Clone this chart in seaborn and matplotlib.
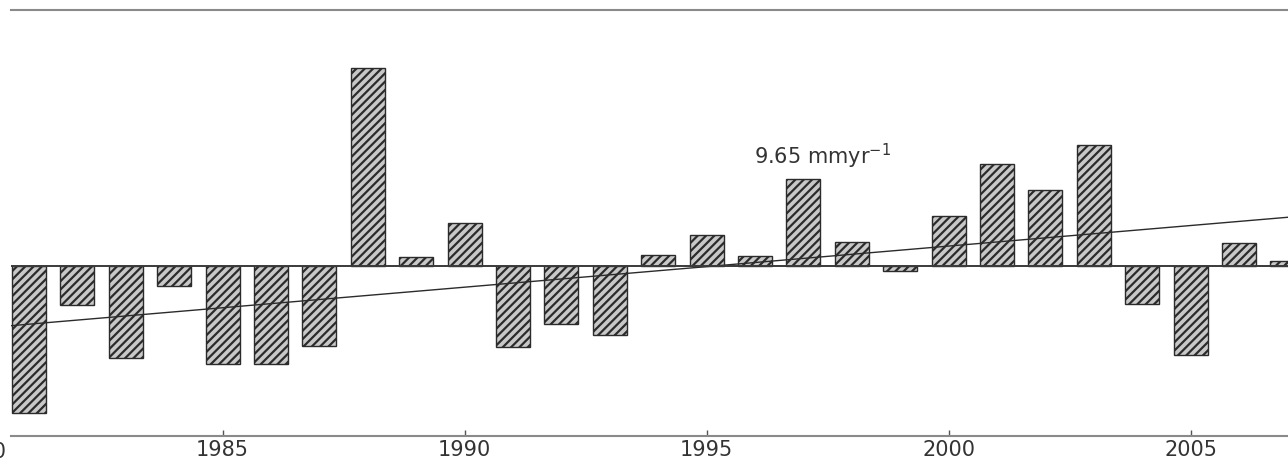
import numpy as np
import pandas as pd
import matplotlib
matplotlib.use("Agg")
import matplotlib.pyplot as plt
import seaborn as sns

# Annual precipitation anomalies (mm) and the fitted linear trend
years = list(range(1981, 2008))
anomaly_mm = [-345, -92, -218, -47, -232, -230, -188, 465, 20, 101,
              -190, -136, -162, 26, 73, 23, 204, 56, -12, 117,
              239, 178, 284, -89, -209, 52, 10]
trend_rate = 9.65          # mm per year
trend_zero_year = 1995.25  # year where the fitted line crosses zero
tick_years = [1980, 1985, 1990, 1995, 2000, 2005]
trend_label = "9.65 mmyr$^{-1}$"

sns.set_theme(style="white")
plt.rcParams["font.family"] = ["DejaVu Sans"]
plt.rcParams["hatch.linewidth"] = 1.6

text_color = "#333333"
label_size = 15

fig = plt.figure(figsize=(12.88, 4.63), dpi=100)
ax = fig.add_axes([0.0085, 0.0583, 0.9915, 0.9201])

df = pd.DataFrame({"year": years, "anomaly": anomaly_mm})
sns.barplot(data=df, x="year", y="anomaly", native_scale=True, width=0.7,
            color="#c8c8c8", saturation=1, edgecolor="#2b2b2b",
            linewidth=1.0, hatch="////", errorbar=None, ax=ax)

# Linear trend line
trend_x = np.array([1980.0, 2008.0])
trend_y = trend_rate * (trend_x - trend_zero_year)
sns.lineplot(x=trend_x, y=trend_y, color="#2b2b2b", linewidth=1.0, ax=ax)

ax.axhline(0, color="#3a3a3a", linewidth=1.4, zorder=3)

ax.set_xticks(tick_years)
ax.set_yticks([])
ax.set_xlim(1980.628, 2007.012)
ax.set_ylim(-400, 600)
ax.set_xlabel("")
ax.set_ylabel("")

for side in ("left", "right"):
    ax.spines[side].set_visible(False)
for side in ("top", "bottom"):
    ax.spines[side].set_color("#8a8a8a")
    ax.spines[side].set_linewidth(1.5)

ax.tick_params(axis="x", direction="in", length=4, width=1, color="#555555",
               pad=3, labelsize=label_size, labelcolor=text_color, bottom=True)

# First year label sits left of the visible range
ax.annotate("1980", xy=(1980, 0), xycoords=("data", "axes fraction"),
            xytext=(0, -4.5), textcoords="offset points", ha="center", va="top",
            fontsize=label_size, color=text_color, annotation_clip=False)

ax.text(1997.4, 256, trend_label, ha="center", va="center",
        fontsize=label_size, color=text_color)

fig.savefig("out.png", dpi=100)
